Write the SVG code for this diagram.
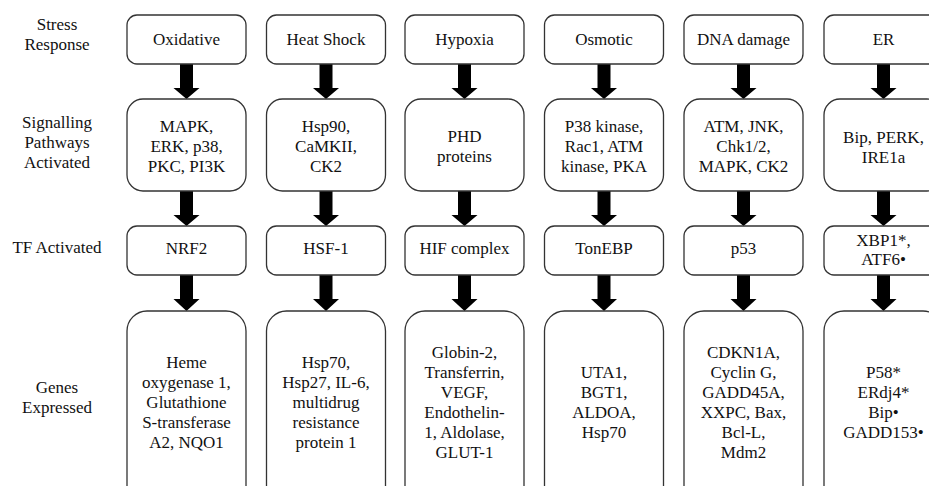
<svg xmlns="http://www.w3.org/2000/svg" width="929" height="486" viewBox="0 0 929 486">
<style>
text{font-family:Liberation Serif,Tinos,DejaVu Serif,Noto Serif,serif;font-size:17px;fill:#111;text-anchor:middle}
.b{fill:#fff;stroke:#333;stroke-width:1.3}
.a{fill:#000}
</style>
<rect width="929" height="486" fill="#fff"/>
<g id="row-labels">
<text x="57" y="30">Stress</text><text x="57" y="50">Response</text>
<text x="57" y="128">Signalling</text><text x="57" y="148">Pathways</text><text x="57" y="168">Activated</text>
<text x="57" y="253">TF Activated</text>
<text x="57" y="393">Genes</text><text x="57" y="413">Expressed</text>
</g>
<g id="connectors">
<path class="a" d="M180,64h13v24h6.5l-13,11l-13,-11h6.5z"/>
<path class="a" d="M180,191h13v24h6.5l-13,11l-13,-11h6.5z"/>
<path class="a" d="M180,275h13v24h6.5l-13,12l-13,-12h6.5z"/>
<path class="a" d="M319.5,64h13v24h6.5l-13,11l-13,-11h6.5z"/>
<path class="a" d="M319.5,191h13v24h6.5l-13,11l-13,-11h6.5z"/>
<path class="a" d="M319.5,275h13v24h6.5l-13,12l-13,-12h6.5z"/>
<path class="a" d="M458,64h13v24h6.5l-13,11l-13,-11h6.5z"/>
<path class="a" d="M458,191h13v24h6.5l-13,11l-13,-11h6.5z"/>
<path class="a" d="M458,275h13v24h6.5l-13,12l-13,-12h6.5z"/>
<path class="a" d="M597.5,64h13v24h6.5l-13,11l-13,-11h6.5z"/>
<path class="a" d="M597.5,191h13v24h6.5l-13,11l-13,-11h6.5z"/>
<path class="a" d="M597.5,275h13v24h6.5l-13,12l-13,-12h6.5z"/>
<path class="a" d="M737,64h13v24h6.5l-13,11l-13,-11h6.5z"/>
<path class="a" d="M737,191h13v24h6.5l-13,11l-13,-11h6.5z"/>
<path class="a" d="M737,275h13v24h6.5l-13,12l-13,-12h6.5z"/>
<path class="a" d="M877,64h13v24h6.5l-13,11l-13,-11h6.5z"/>
<path class="a" d="M877,191h13v24h6.5l-13,11l-13,-11h6.5z"/>
<path class="a" d="M877,275h13v24h6.5l-13,12l-13,-12h6.5z"/>
</g>
<g id="oxidative">
<rect class="b" x="127" y="15" width="119" height="49" rx="10"/><text x="186.5" y="45">Oxidative</text>
</g>
<g id="oxidative-pathways">
<rect class="b" x="127" y="99" width="119" height="92" rx="16"/>
<text x="186.5" y="132">MAPK,</text><text x="186.5" y="152">ERK, p38,</text><text x="186.5" y="172">PKC, PI3K</text>
</g>
<g id="oxidative-tf">
<rect class="b" x="127" y="226" width="119" height="49" rx="10"/><text x="186.5" y="254">NRF2</text>
</g>
<g id="oxidative-genes">
<rect class="b" x="127" y="311" width="119" height="210" rx="20"/>
<text x="186.5" y="368">Heme</text><text x="186.5" y="388">oxygenase 1,</text><text x="186.5" y="408">Glutathione</text><text x="186.5" y="428">S-transferase</text><text x="186.5" y="448">A2, NQO1</text>
</g>
<g id="heatshock">
<rect class="b" x="266.5" y="15" width="119" height="49" rx="10"/><text x="326" y="45">Heat Shock</text>
</g>
<g id="heatshock-pathways">
<rect class="b" x="266.5" y="99" width="119" height="92" rx="16"/>
<text x="326" y="132">Hsp90,</text><text x="326" y="152">CaMKII,</text><text x="326" y="172">CK2</text>
</g>
<g id="heatshock-tf">
<rect class="b" x="266.5" y="226" width="119" height="49" rx="10"/><text x="326" y="254">HSF-1</text>
</g>
<g id="heatshock-genes">
<rect class="b" x="266.5" y="311" width="119" height="210" rx="20"/>
<text x="326" y="368">Hsp70,</text><text x="326" y="388">Hsp27, IL-6,</text><text x="326" y="408">multidrug</text><text x="326" y="428">resistance</text><text x="326" y="448">protein 1</text>
</g>
<g id="hypoxia">
<rect class="b" x="405" y="15" width="119" height="49" rx="10"/><text x="464.5" y="45">Hypoxia</text>
</g>
<g id="hypoxia-pathways">
<rect class="b" x="405" y="99" width="119" height="92" rx="16"/>
<text x="464.5" y="142">PHD</text><text x="464.5" y="162">proteins</text>
</g>
<g id="hypoxia-tf">
<rect class="b" x="405" y="226" width="119" height="49" rx="10"/><text x="464.5" y="254">HIF complex</text>
</g>
<g id="hypoxia-genes">
<rect class="b" x="405" y="311" width="119" height="210" rx="20"/>
<text x="464.5" y="358">Globin-2,</text><text x="464.5" y="378">Transferrin,</text><text x="464.5" y="398">VEGF,</text><text x="464.5" y="418">Endothelin-</text><text x="464.5" y="438">1, Aldolase,</text><text x="464.5" y="458">GLUT-1</text>
</g>
<g id="osmotic">
<rect class="b" x="544.5" y="15" width="119" height="49" rx="10"/><text x="604" y="45">Osmotic</text>
</g>
<g id="osmotic-pathways">
<rect class="b" x="544.5" y="99" width="119" height="92" rx="16"/>
<text x="604" y="132">P38 kinase,</text><text x="604" y="152">Rac1, ATM</text><text x="604" y="172">kinase, PKA</text>
</g>
<g id="osmotic-tf">
<rect class="b" x="544.5" y="226" width="119" height="49" rx="10"/><text x="604" y="254">TonEBP</text>
</g>
<g id="osmotic-genes">
<rect class="b" x="544.5" y="311" width="119" height="210" rx="20"/>
<text x="604" y="378">UTA1,</text><text x="604" y="398">BGT1,</text><text x="604" y="418">ALDOA,</text><text x="604" y="438">Hsp70</text>
</g>
<g id="dnadamage">
<rect class="b" x="684" y="15" width="119" height="49" rx="10"/><text x="743.5" y="45">DNA damage</text>
</g>
<g id="dnadamage-pathways">
<rect class="b" x="684" y="99" width="119" height="92" rx="16"/>
<text x="743.5" y="132">ATM, JNK,</text><text x="743.5" y="152">Chk1/2,</text><text x="743.5" y="172">MAPK, CK2</text>
</g>
<g id="dnadamage-tf">
<rect class="b" x="684" y="226" width="119" height="49" rx="10"/><text x="743.5" y="254">p53</text>
</g>
<g id="dnadamage-genes">
<rect class="b" x="684" y="311" width="119" height="210" rx="20"/>
<text x="743.5" y="358">CDKN1A,</text><text x="743.5" y="378">Cyclin G,</text><text x="743.5" y="398">GADD45A,</text><text x="743.5" y="418">XXPC, Bax,</text><text x="743.5" y="438">Bcl-L,</text><text x="743.5" y="458">Mdm2</text>
</g>
<g id="er">
<rect class="b" x="824" y="15" width="119" height="49" rx="10"/><text x="883.5" y="45">ER</text>
</g>
<g id="er-pathways">
<rect class="b" x="824" y="99" width="119" height="92" rx="16"/>
<text x="883.5" y="143">Bip, PERK,</text><text x="883.5" y="163">IRE1a</text>
</g>
<g id="er-tf">
<rect class="b" x="824" y="226" width="119" height="49" rx="10"/>
<text x="883.5" y="246">XBP1*,</text><text x="883.5" y="265">ATF6•</text>
</g>
<g id="er-genes">
<rect class="b" x="824" y="311" width="119" height="210" rx="20"/>
<text x="883.5" y="378">P58*</text><text x="883.5" y="398">ERdj4*</text><text x="883.5" y="418">Bip•</text><text x="883.5" y="438">GADD153•</text>
</g>
</svg>
